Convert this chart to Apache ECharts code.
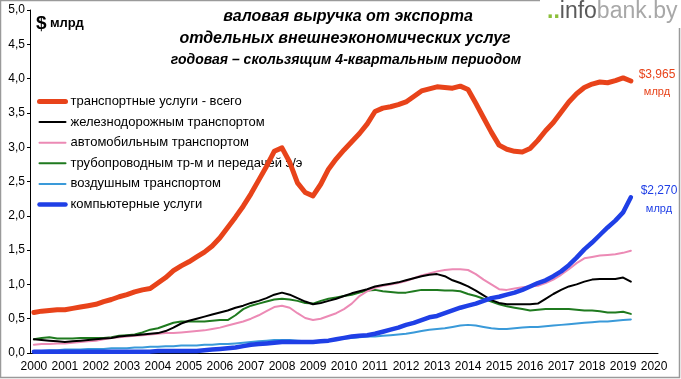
<!DOCTYPE html>
<html><head><meta charset="utf-8">
<script src="https://cdn.jsdelivr.net/npm/echarts@6/dist/echarts.min.js"></script>
<style>html,body{margin:0;padding:0;background:#fff}#c{width:681px;height:379px}</style>
</head><body><div id="c"></div>
<script>
// categories: quarters 2000Q1 .. 2020Q1 (labels every 4th)
const years = ['2000','2001','2002','2003','2004','2005','2006','2007','2008','2009','2010','2011','2012','2013','2014','2015','2016','2017','2018','2019','2020'];
const yTicks = ['0,0','0,5','1,0','1,5','2,0','2,5','3,0','3,5','4,0','4,5','5,0'];

const transport = [0.59,0.61,0.62,0.63,0.63,0.65,0.67,0.69,0.71,0.75,0.78,0.82,0.85,0.89,0.92,0.94,1.02,1.10,1.20,1.27,1.33,1.40,1.47,1.56,1.68,1.83,1.98,2.14,2.32,2.52,2.72,2.94,2.99,2.78,2.48,2.34,2.29,2.46,2.68,2.83,2.96,3.08,3.20,3.34,3.52,3.57,3.59,3.62,3.66,3.74,3.82,3.85,3.88,3.87,3.86,3.89,3.84,3.64,3.43,3.22,3.03,2.97,2.94,2.93,2.98,3.10,3.24,3.36,3.51,3.66,3.78,3.87,3.92,3.95,3.94,3.97,4.01,3.965];
const rail = [0.20,0.19,0.18,0.17,0.16,0.17,0.18,0.19,0.20,0.21,0.22,0.24,0.25,0.26,0.27,0.28,0.29,0.32,0.37,0.43,0.47,0.50,0.53,0.56,0.59,0.62,0.66,0.69,0.73,0.76,0.80,0.85,0.88,0.85,0.80,0.75,0.71,0.73,0.76,0.79,0.83,0.87,0.90,0.93,0.97,0.99,1.01,1.03,1.06,1.09,1.12,1.14,1.15,1.12,1.06,1.02,0.97,0.91,0.84,0.77,0.73,0.71,0.71,0.71,0.71,0.72,0.79,0.86,0.92,0.97,1.00,1.04,1.07,1.08,1.08,1.08,1.10,1.04];
const auto = [0.12,0.13,0.13,0.14,0.14,0.15,0.16,0.17,0.18,0.20,0.22,0.23,0.24,0.25,0.26,0.27,0.28,0.29,0.29,0.30,0.31,0.32,0.33,0.35,0.37,0.40,0.43,0.46,0.50,0.55,0.61,0.67,0.69,0.66,0.58,0.51,0.48,0.50,0.54,0.58,0.64,0.72,0.83,0.90,0.95,0.98,1.00,1.02,1.05,1.09,1.13,1.16,1.19,1.21,1.22,1.22,1.21,1.15,1.07,1.00,0.93,0.92,0.94,0.96,0.97,0.98,1.02,1.07,1.14,1.22,1.31,1.38,1.40,1.42,1.43,1.44,1.46,1.49];
const pipeline = [0.20,0.22,0.23,0.21,0.21,0.21,0.22,0.22,0.22,0.22,0.23,0.25,0.26,0.27,0.30,0.34,0.36,0.40,0.44,0.46,0.46,0.46,0.46,0.47,0.48,0.48,0.55,0.64,0.69,0.72,0.75,0.78,0.79,0.78,0.76,0.73,0.72,0.76,0.79,0.81,0.83,0.85,0.88,0.91,0.92,0.90,0.89,0.88,0.88,0.90,0.92,0.92,0.92,0.91,0.91,0.90,0.86,0.83,0.79,0.75,0.71,0.68,0.66,0.64,0.62,0.63,0.64,0.64,0.64,0.64,0.63,0.62,0.62,0.61,0.59,0.59,0.60,0.57];
const air = [0.03,0.03,0.04,0.04,0.05,0.05,0.05,0.06,0.06,0.06,0.07,0.07,0.07,0.08,0.08,0.09,0.09,0.10,0.10,0.11,0.11,0.11,0.12,0.12,0.13,0.13,0.14,0.15,0.16,0.17,0.18,0.19,0.19,0.19,0.18,0.17,0.17,0.18,0.19,0.20,0.21,0.22,0.23,0.24,0.24,0.25,0.26,0.27,0.28,0.30,0.32,0.34,0.35,0.36,0.38,0.40,0.41,0.40,0.38,0.36,0.35,0.35,0.36,0.37,0.38,0.38,0.39,0.40,0.41,0.42,0.43,0.44,0.45,0.46,0.46,0.47,0.48,0.49];
const computer = [0.02,0.02,0.02,0.02,0.02,0.02,0.02,0.02,0.02,0.02,0.02,0.02,0.02,0.02,0.02,0.02,0.03,0.03,0.03,0.03,0.03,0.03,0.04,0.05,0.06,0.07,0.08,0.10,0.12,0.13,0.14,0.15,0.16,0.16,0.16,0.16,0.16,0.17,0.18,0.20,0.22,0.24,0.25,0.26,0.28,0.31,0.34,0.37,0.41,0.44,0.48,0.52,0.54,0.58,0.62,0.66,0.69,0.72,0.76,0.80,0.82,0.85,0.88,0.92,0.97,1.02,1.06,1.12,1.19,1.28,1.39,1.51,1.61,1.72,1.83,1.93,2.05,2.27];

const names = ['транспортные услуги - всего','железнодорожным транспортом','автомобильным транспортом','трубопроводным тр-м и передачей э/э','воздушным транспортом','компьютерные услуги'];
const colors = ['#e8431a','#000000','#ec8ab5','#1f7a1f','#3a9ad9','#1f3fe6'];
const widths = [5, 2, 2, 2, 2, 4.5];

// quarterly category labels
const cats = [];
years.forEach((y, i) => { if (i < years.length - 1) { cats.push(y, '', '', ''); } else { cats.push(y); } });

const FONT = 'Liberation Sans';
const chart = echarts.init(document.getElementById('c'));
function line(k, data, z) {
  return { name: names[k], type: 'line', data, symbol: 'none', smooth: false, z,
    lineStyle: { color: colors[k], width: widths[k], cap: 'round', join: 'round' }, itemStyle: { color: colors[k] } };
}
chart.setOption({
  animation: false,
  backgroundColor: '#fff',
  textStyle: { fontFamily: FONT },
  grid: { left: 30, right: 23, top: 10, bottom: 26 },
  xAxis: { type: 'category', data: cats, boundaryGap: true,
    axisLine: { lineStyle: { color: '#000', width: 1 } },
    axisTick: { show: false },
    axisLabel: { interval: (i) => i % 4 === 0, color: '#000', fontSize: 12, fontFamily: FONT, margin: 8 } },
  yAxis: { type: 'value', min: 0, max: 5, interval: 0.5, splitLine: { show: false },
    axisLine: { show: true, lineStyle: { color: '#000' } },
    axisTick: { show: true, length: 3, lineStyle: { color: '#000' } },
    axisLabel: { color: '#000', fontSize: 12, fontFamily: FONT, margin: 5,
      formatter: (v) => yTicks[Math.round(v * 2)] } },
  legend: { orient: 'vertical', left: 32, top: 90, itemWidth: 26, itemHeight: 14, itemGap: 7.6,
    itemStyle: { opacity: 0 },
    data: names.map((n, k) => ({ name: n, lineStyle: { width: widths[k], color: colors[k] } })),
    textStyle: { fontSize: 13, color: '#000', fontFamily: FONT } },
  series: [
    line(4, air, 2),
    line(3, pipeline, 3),
    line(2, auto, 4),
    line(1, rail, 5),
    line(5, computer, 6),
    line(0, transport, 7)
  ],
  graphic: [
    { type: 'rect', shape: { x: 0.5, y: 0.5, width: 679, height: 377 }, style: { fill: null, stroke: '#9a9a9a', lineWidth: 1.5 }, z: 0 },
    { type: 'rect', shape: { x: 540, y: 0, width: 141, height: 28 }, style: { fill: '#fff' }, z: 1 },
    { type: 'text', left: 547, top: 0, z: 2, style: { rich: {
        g: { fill: '#8bbf3a', fontSize: 23, fontWeight: 'bold', fontFamily: FONT },
        a: { fill: '#5a5a5a', fontSize: 23, fontFamily: FONT },
        b: { fill: '#a8a8a8', fontSize: 23, fontFamily: FONT } },
        text: '{g|..}{a|info}{b|bank.by}' } },
    { type: 'text', left: 36, top: 14, z: 2, style: { rich: {
        d: { fill: '#000', fontSize: 19, fontWeight: 'bold', fontFamily: FONT },
        m: { fill: '#000', fontSize: 13, fontWeight: 'bold', fontFamily: FONT } },
        text: '{d|$} {m|млрд}' } },
    { type: 'text', x: 348, y: 17, z: 2, style: { text: 'валовая выручка от экспорта', textAlign: 'center', textVerticalAlign: 'middle', fill: '#000', font: 'italic bold 16px "Liberation Sans"' } },
    { type: 'text', x: 345, y: 39, z: 2, style: { text: 'отдельных внешнеэкономических услуг', textAlign: 'center', textVerticalAlign: 'middle', fill: '#000', font: 'italic bold 16px "Liberation Sans"' } },
    { type: 'text', x: 346, y: 60, z: 2, style: { text: 'годовая – скользящим 4-квартальным периодом', textAlign: 'center', textVerticalAlign: 'middle', fill: '#000', font: 'italic bold 14px "Liberation Sans"' } },
    { type: 'text', x: 657, y: 75, z: 2, style: { text: '$3,965', textAlign: 'center', textVerticalAlign: 'middle', fill: '#e8431a', font: '12px "Liberation Sans"' } },
    { type: 'text', x: 657, y: 92, z: 2, style: { text: 'млрд', textAlign: 'center', textVerticalAlign: 'middle', fill: '#e8431a', font: '11px "Liberation Sans"' } },
    { type: 'text', x: 659, y: 191, z: 2, style: { text: '$2,270', textAlign: 'center', textVerticalAlign: 'middle', fill: '#1f3fe6', font: '12px "Liberation Sans"' } },
    { type: 'text', x: 659, y: 209, z: 2, style: { text: 'млрд', textAlign: 'center', textVerticalAlign: 'middle', fill: '#1f3fe6', font: '11px "Liberation Sans"' } }
  ]
});
</script></body></html>
